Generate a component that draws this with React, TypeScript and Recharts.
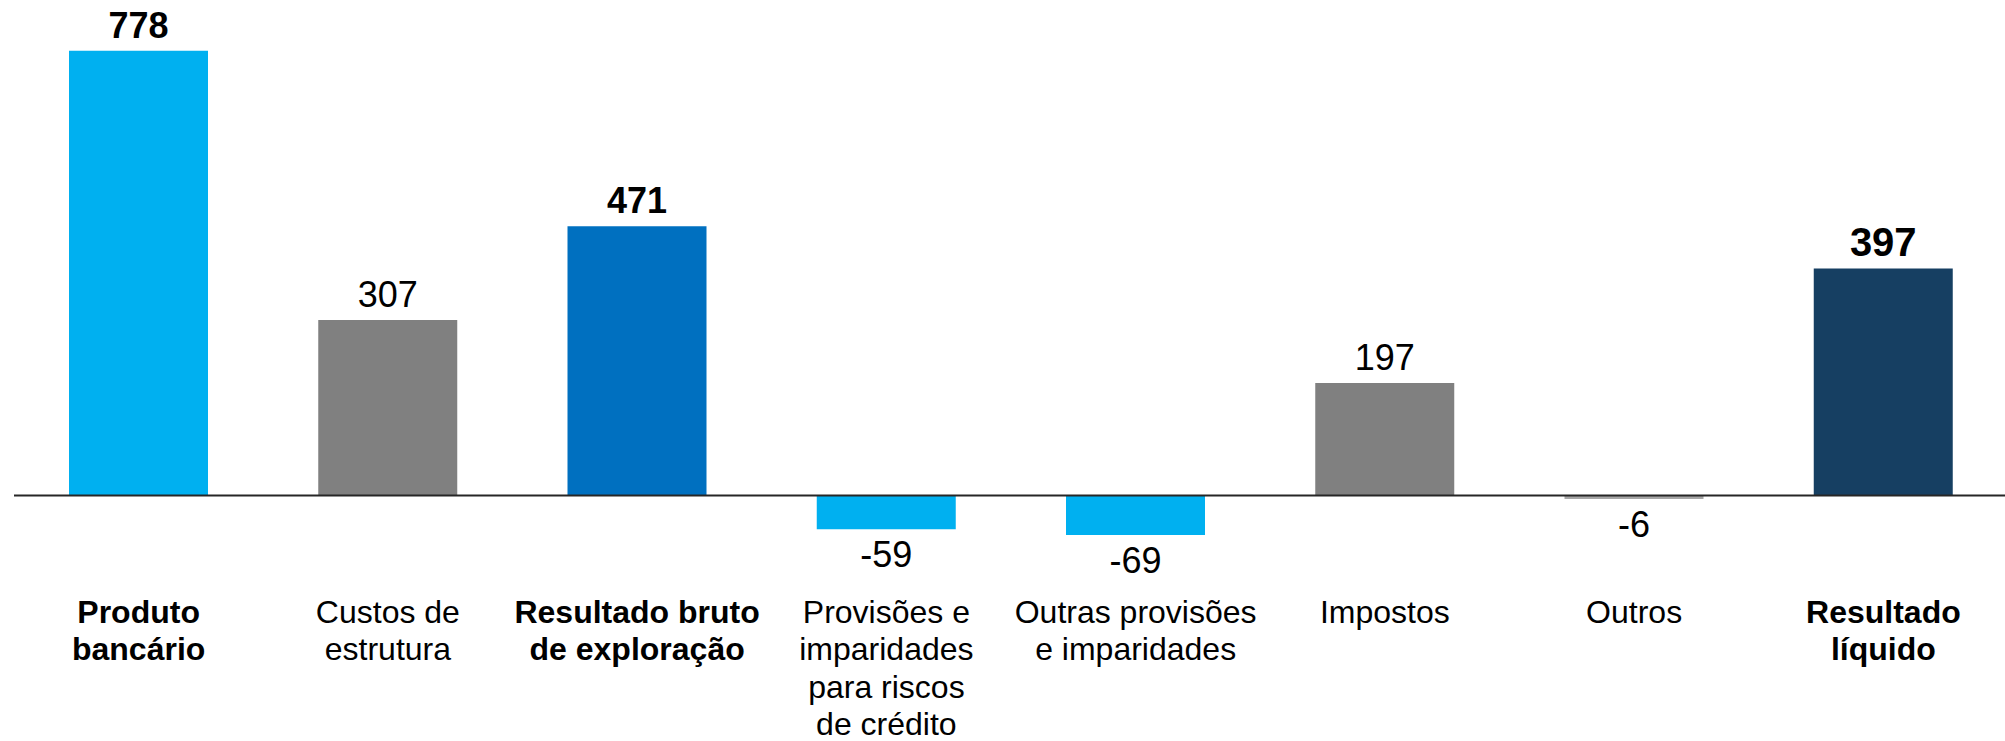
import React from "react";
import { BarChart, Bar, XAxis, YAxis, Cell, LabelList, ReferenceLine } from "recharts";

// Values (M€ style waterfall summary, not stacked).
const categories = [
  ["Produto", "bancário"],
  ["Custos de", "estrutura"],
  ["Resultado bruto", "de exploração"],
  ["Provisões e", "imparidades", "para riscos", "de crédito"],
  ["Outras provisões", "e imparidades"],
  ["Impostos"],
  ["Outros"],
  ["Resultado", "líquido"],
];
const values = [778, 307, 471, -59, -69, 197, -6, 397];
const totals = [true, false, true, false, false, false, false, true];

const barColors = ["#00B0F0", "#808080", "#0070C0", "#00B0F0", "#00B0F0", "#808080", "#A6A6A6", "#163F62"];
// the final result label is drawn a bit larger than the others
const labelSizes = [36, 36, 36, 36, 36, 36, 36, 40];
const FONT = "'Liberation Sans', Arial, sans-serif";

const data = values.map((v, i) => ({ key: String(i), value: v }));

function CategoryTick(props: any) {
  const { x, y, payload } = props;
  const i = Number(payload.value);
  const lines = categories[i];
  return (
    <text
      x={x}
      y={y + 70}
      textAnchor="middle"
      fontFamily={FONT}
      fontSize={32}
      fontWeight={totals[i] ? 700 : 400}
      fill="#000"
    >
      {lines.map((l, k) => (
        <tspan key={k} x={x} dy={k === 0 ? 0 : 37.5}>
          {l}
        </tspan>
      ))}
    </text>
  );
}

function ValueLabel(props: any) {
  const { x, y, width, height, value, index } = props;
  const top = Math.min(y, y + height);
  const bottom = Math.max(y, y + height);
  const ty = value >= 0 ? top - 13 : bottom + 38;
  return (
    <text
      x={x + width / 2}
      y={ty}
      textAnchor="middle"
      fontFamily={FONT}
      fontSize={labelSizes[index]}
      fontWeight={totals[index] ? 700 : 400}
      fill="#000"
    >
      {value}
    </text>
  );
}

export default function App() {
  return (
    <div style={{ position: "absolute", left: 0, top: 0, width: 2005, height: 741, overflow: "hidden", background: "#fff" }}>
      <BarChart
        width={2008}
        height={741}
        data={data}
        barSize={139}
        margin={{ top: 38.3, right: 0, left: 14, bottom: 0 }}
      >
        <XAxis
          dataKey="key"
          axisLine={false}
          tickLine={false}
          tickSize={0}
          tickMargin={0}
          height={188.35}
          interval={0}
          tick={<CategoryTick />}
        />
        <YAxis hide type="number" domain={[-100, 800]} allowDataOverflow />
        <Bar dataKey="value" isAnimationActive={false}>
          {data.map((d, i) => (
            <Cell key={d.key} fill={barColors[i]} />
          ))}
          <LabelList dataKey="value" content={<ValueLabel />} />
        </Bar>
        <ReferenceLine y={0} stroke="#262626" strokeWidth={2} />
      </BarChart>
    </div>
  );
}
